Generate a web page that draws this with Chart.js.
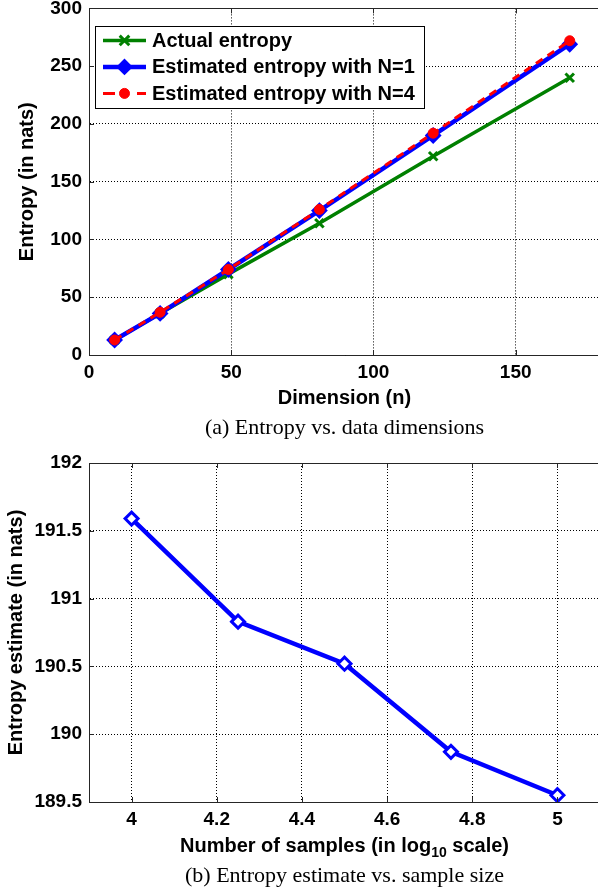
<!DOCTYPE html>
<html>
<head>
<meta charset="utf-8">
<script src="https://cdn.jsdelivr.net/npm/chart.js@4.4.0/dist/chart.umd.min.js"></script>
<style>
    html, body { margin: 0; padding: 0; background: #fff; }
    #page { position: relative; width: 598px; height: 890px; overflow: hidden; }
    canvas { position: absolute; left: 0; }
    #c1 { top: -10px; }
    #c2 { top: 440px; }
    .xt { position: absolute; left: 89px; width: 511px; text-align: center; color: #000;
          font: bold 20px "Liberation Sans", Arial, sans-serif; line-height: 20px; }
    .xt sub { font-size: 14px; vertical-align: -5px; line-height: 0; }
    .cap { position: absolute; left: 89px; width: 511px; text-align: center; color: #000;
           font: 22px "Liberation Serif", "Times New Roman", serif; line-height: 22px; }
</style>
</head>
<body>
<div id="page">
    <canvas id="c1" width="610" height="400"></canvas>
    <div class="xt" style="top:387px">Dimension (n)</div>
    <div class="cap" style="top:416px">(a) Entropy vs. data dimensions</div>
    <canvas id="c2" width="610" height="392"></canvas>
    <div class="xt" style="top:835px">Number of samples (in log<sub>10</sub> scale)</div>
    <div class="cap" style="top:864px">(b) Entropy estimate vs. sample size</div>
</div>
<script>
// (a) entropy vs dimension
const dims = [9, 25, 49, 81, 121, 169];
const actualEntropy = [13, 36, 70, 114, 172, 240];
const estimatedN1 = [13, 36, 74, 125, 190, 269];
const estimatedN4 = [13, 37, 74, 126, 192, 272];
const dimTicks = [0, 50, 100, 150];
const entropyTicks = [0, 50, 100, 150, 200, 250, 300];

// (b) estimate vs number of samples
const logSamples = [4, 4.25, 4.5, 4.75, 5];
const entropyEstimate = [191.59, 190.83, 190.52, 189.87, 189.55];
const logTicks = [4, 4.2, 4.4, 4.6, 4.8, 5];
const estimateTicks = [189.5, 190, 190.5, 191, 191.5, 192];

const SANS = '"Liberation Sans", Arial, Helvetica, sans-serif';
const GREEN = '#008000', BLUE = '#0000ff', RED = '#ff0000';

const toPoints = (xs, ys) => xs.map((x, i) => ({ x: x, y: ys[i] }));

// solid top edge of the box + small inward tick marks, like matlab
const boxPlugin = {
    id: 'box',
    afterDraw(chart) {
        const { ctx, chartArea: a, scales } = chart;
        ctx.save();
        ctx.strokeStyle = '#262626';
        ctx.lineWidth = 1;
        ctx.beginPath();
        ctx.moveTo(a.left, Math.round(a.top) + 0.5);
        ctx.lineTo(a.right, Math.round(a.top) + 0.5);
        scales.x.ticks.forEach((t) => {
            const px = Math.round(scales.x.getPixelForValue(t.value)) + 0.5;
            ctx.moveTo(px, a.bottom); ctx.lineTo(px, a.bottom - 5);
            ctx.moveTo(px, a.top); ctx.lineTo(px, a.top + 5);
        });
        scales.y.ticks.forEach((t) => {
            const py = Math.round(scales.y.getPixelForValue(t.value)) + 0.5;
            ctx.moveTo(a.left, py); ctx.lineTo(a.left + 5, py);
        });
        ctx.stroke();
        ctx.restore();
    }
};

function drawMarker(ctx, ds, x, y) {
    const r = ds.pointRadius;
    ctx.save();
    ctx.setLineDash([]);
    ctx.strokeStyle = ds.pointBorderColor || ds.borderColor;
    ctx.fillStyle = ds.pointBackgroundColor || ds.borderColor;
    ctx.lineWidth = ds.pointBorderWidth;
    ctx.beginPath();
    if (ds.pointStyle === 'crossRot') {
        const d = r * 0.8;
        ctx.moveTo(x - d, y - d); ctx.lineTo(x + d, y + d);
        ctx.moveTo(x + d, y - d); ctx.lineTo(x - d, y + d);
        ctx.stroke();
    } else if (ds.pointStyle === 'rectRot') {
        ctx.moveTo(x, y - r); ctx.lineTo(x + r, y); ctx.lineTo(x, y + r); ctx.lineTo(x - r, y);
        ctx.closePath(); ctx.fill(); ctx.stroke();
    } else {
        ctx.arc(x, y, r, 0, Math.PI * 2);
        ctx.fill(); ctx.stroke();
    }
    ctx.restore();
}

// legend box inside the plot, top left
const insideLegend = {
    id: 'insideLegend',
    afterDraw(chart) {
        const { ctx, chartArea: a } = chart;
        const bx = a.left + 6, by = a.top + 18, bw = 329, bh = 82;
        ctx.save();
        ctx.fillStyle = '#fff';
        ctx.fillRect(bx, by, bw, bh);
        ctx.strokeStyle = '#000';
        ctx.lineWidth = 1;
        ctx.strokeRect(Math.round(bx) + 0.5, Math.round(by) + 0.5, bw, bh);
        ctx.font = 'bold 20px ' + SANS;
        ctx.textBaseline = 'middle';
        ctx.textAlign = 'left';
        chart.data.datasets.forEach((ds, i) => {
            const y = by + 14 + i * 26.5;
            const x0 = bx + 8, x1 = bx + 51;
            ctx.save();
            ctx.strokeStyle = ds.borderColor;
            ctx.lineWidth = ds.borderWidth;
            ctx.setLineDash(ds.borderDash ? [12, 22] : []);
            ctx.beginPath();
            ctx.moveTo(x0, y); ctx.lineTo(x1, y);
            ctx.stroke();
            ctx.restore();
            drawMarker(ctx, ds, (x0 + x1) / 2, y);
            ctx.fillStyle = '#000';
            ctx.fillText(ds.label, bx + 57, y + 1);
        });
        ctx.restore();
    }
};

function axisOpts(min, max, ticks, size) {
    return {
        type: 'linear',
        min: min,
        max: max,
        afterBuildTicks: (s) => { s.ticks = ticks.map((v) => ({ value: v })); },
        grid: { color: '#000', lineWidth: 1, drawTicks: false },
        border: { color: '#262626', width: 1, dash: [1, 2] },
        ticks: {
            color: '#000',
            padding: 6,
            font: { family: SANS, size: 19, weight: 'bold' },
            callback: (v) => String(v)
        }
    };
}

const x1 = axisOpts(0, 180, dimTicks);
x1.afterFit = (s) => { s.height = 35; };
const y1 = axisOpts(0, 300, entropyTicks);
y1.afterFit = (s) => { s.width = 89; };
y1.ticks.padding = 7;
y1.title = { display: true, text: 'Entropy (in nats)', color: '#000',
    font: { family: SANS, size: 20, weight: 'bold' }, padding: { top: 15, bottom: 0 } };

new Chart(document.getElementById('c1'), {
    type: 'line',
    data: {
        datasets: [{
            label: 'Actual entropy',
            data: toPoints(dims, actualEntropy),
            borderColor: GREEN,
            borderWidth: 3.5,
            pointStyle: 'crossRot',
            pointRadius: 6,
            pointBorderWidth: 3,
            pointBorderColor: GREEN,
            pointBackgroundColor: GREEN,
            order: 2
        }, {
            label: 'Estimated entropy with N=1',
            data: toPoints(dims, estimatedN1),
            borderColor: BLUE,
            borderWidth: 4.5,
            pointStyle: 'rectRot',
            pointRadius: 7,
            pointBorderWidth: 2,
            pointBorderColor: BLUE,
            pointBackgroundColor: BLUE,
            order: 1
        }, {
            label: 'Estimated entropy with N=4',
            data: toPoints(dims, estimatedN4),
            borderColor: RED,
            borderWidth: 3,
            borderDash: [8, 6],
            pointStyle: 'circle',
            pointRadius: 5,
            pointBorderWidth: 1,
            pointBorderColor: RED,
            pointBackgroundColor: RED,
            order: 0
        }]
    },
    options: {
        responsive: false,
        animation: false,
        devicePixelRatio: 1,
        layout: { padding: { top: 17, right: 8, left: 0, bottom: 0 } },
        plugins: { legend: { display: false }, tooltip: { enabled: false } },
        scales: { x: x1, y: y1 }
    },
    plugins: [boxPlugin, insideLegend]
});

const x2 = axisOpts(3.9, 5.1, logTicks);
x2.afterFit = (s) => { s.height = 30; };
const y2 = axisOpts(189.5, 192, estimateTicks);
y2.afterFit = (s) => { s.width = 89; };
y2.ticks.padding = 7;
y2.title = { display: true, text: 'Entropy estimate (in nats)', color: '#000',
    font: { family: SANS, size: 20, weight: 'bold' }, padding: { top: 4, bottom: 0 } };

new Chart(document.getElementById('c2'), {
    type: 'line',
    data: {
        datasets: [{
            label: 'Entropy estimate',
            data: toPoints(logSamples, entropyEstimate),
            borderColor: BLUE,
            borderWidth: 4.5,
            pointStyle: 'rectRot',
            pointRadius: 6.5,
            pointBorderWidth: 3,
            pointBorderColor: BLUE,
            pointBackgroundColor: '#ffffff'
        }]
    },
    options: {
        responsive: false,
        animation: false,
        devicePixelRatio: 1,
        layout: { padding: { top: 23, right: 10, left: 0, bottom: 0 } },
        plugins: { legend: { display: false }, tooltip: { enabled: false } },
        scales: { x: x2, y: y2 }
    },
    plugins: [boxPlugin]
});
</script>
</body>
</html>
